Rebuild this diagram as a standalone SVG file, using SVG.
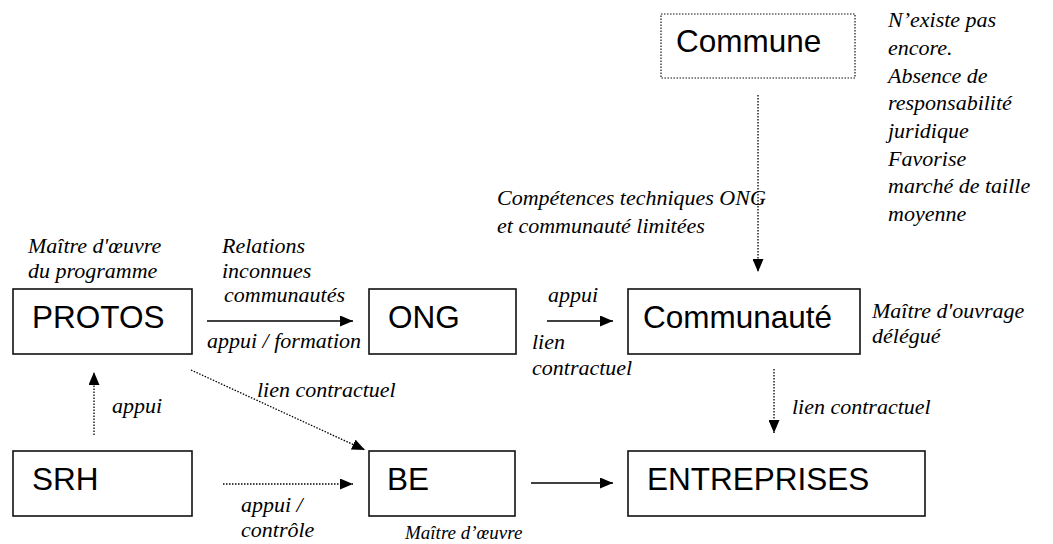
<svg xmlns="http://www.w3.org/2000/svg" width="1053" height="544" viewBox="0 0 1053 544">
<style>
.box{fill:#fff;stroke:#111;stroke-width:1.6}
.dbox{fill:#fff;stroke:#111;stroke-width:1.2;stroke-dasharray:1.5 1.5}
.bt{font-family:"Liberation Sans",Arial,sans-serif;font-size:31.5px;fill:#000}
.it{font-family:"Liberation Serif","Times New Roman",serif;font-style:italic;font-size:22px;fill:#000}
.sm{font-size:19px}
.sol{stroke:#000;stroke-width:1.3;fill:none}
.dot{stroke:#000;stroke-width:1.3;fill:none;stroke-dasharray:1.5 1.5}
</style>
<defs>
<marker id="ah" viewBox="0 0 13 11" refX="13" refY="5.5" markerWidth="13" markerHeight="11" markerUnits="userSpaceOnUse" orient="auto">
<path d="M0,0 L13,5.5 L0,11 z" fill="#000"/>
</marker>
</defs>
<g id="connectors">
<line class="sol" x1="207" y1="321" x2="353" y2="321" marker-end="url(#ah)"/>
<line class="sol" x1="547" y1="321" x2="613" y2="321" marker-end="url(#ah)"/>
<line class="sol" x1="531" y1="483" x2="613" y2="483" marker-end="url(#ah)"/>
<line class="dot" x1="223" y1="484" x2="353" y2="484" marker-end="url(#ah)"/>
<line class="dot" x1="94" y1="435" x2="94" y2="372" marker-end="url(#ah)"/>
<line class="dot" x1="191" y1="370" x2="365" y2="450" marker-end="url(#ah)"/>
<line class="dot" x1="758" y1="95" x2="758" y2="272" marker-end="url(#ah)"/>
<line class="dot" x1="774" y1="369" x2="774" y2="433" marker-end="url(#ah)"/>
</g>
<g id="commune">
<rect class="dbox" x="661" y="14" width="194" height="64"/>
<text class="bt" x="676" y="52">Commune</text>
</g>
<g id="protos">
<rect class="box" x="13" y="289" width="179" height="65"/>
<text class="bt" x="32" y="328">PROTOS</text>
</g>
<g id="ong">
<rect class="box" x="369" y="289" width="147" height="65"/>
<text class="bt" x="388" y="328">ONG</text>
</g>
<g id="communaute">
<rect class="box" x="628" y="289" width="232" height="65"/>
<text class="bt" x="643" y="328">Communauté</text>
</g>
<g id="srh">
<rect class="box" x="13" y="451" width="179" height="65"/>
<text class="bt" x="32" y="490">SRH</text>
</g>
<g id="be">
<rect class="box" x="369" y="451" width="146" height="65"/>
<text class="bt" x="387" y="490">BE</text>
</g>
<g id="entreprises">
<rect class="box" x="628" y="451" width="297" height="65"/>
<text class="bt" x="647" y="490">ENTREPRISES</text>
</g>
<g id="labels">
<text class="it" x="888" y="27">N’existe pas</text>
<text class="it" x="888" y="55">encore.</text>
<text class="it" x="888" y="83">Absence de</text>
<text class="it" x="888" y="110">responsabilité</text>
<text class="it" x="888" y="138">juridique</text>
<text class="it" x="888" y="166">Favorise</text>
<text class="it" x="888" y="193">marché de taille</text>
<text class="it" x="888" y="221">moyenne</text>
<text class="it" x="497" y="205">Compétences techniques ONG</text>
<text class="it" x="497" y="233">et communauté limitées</text>
<text class="it" x="28" y="253">Maître d'œuvre</text>
<text class="it" x="28" y="278">du programme</text>
<text class="it" x="222" y="253">Relations</text>
<text class="it" x="222" y="278">inconnues</text>
<text class="it" x="224" y="302">communautés</text>
<text class="it" x="207" y="348">appui / formation</text>
<text class="it" x="548" y="302">appui</text>
<text class="it" x="532" y="349">lien</text>
<text class="it" x="532" y="375">contractuel</text>
<text class="it" x="872" y="318">Maître d'ouvrage</text>
<text class="it" x="872" y="343">délégué</text>
<text class="it" x="257" y="397">lien contractuel</text>
<text class="it" x="112" y="413">appui</text>
<text class="it" x="792" y="414">lien contractuel</text>
<text class="it" x="241" y="512">appui /</text>
<text class="it" x="241" y="537">contrôle</text>
<text class="it sm" x="405" y="539">Maître d’œuvre</text>
</g>
</svg>
